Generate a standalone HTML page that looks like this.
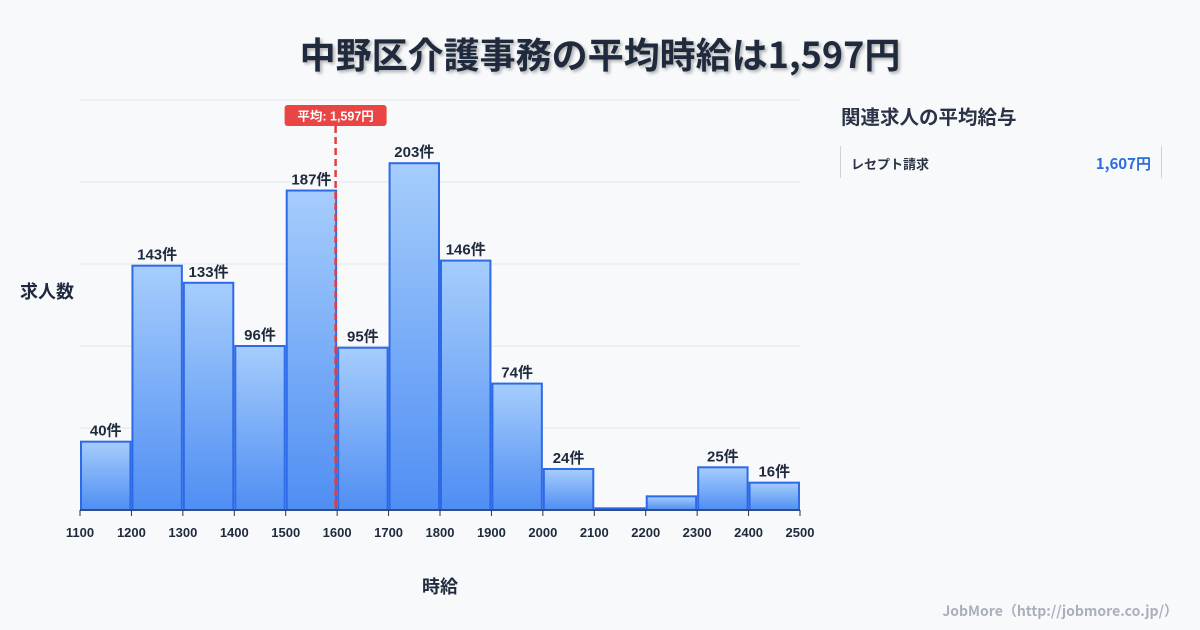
<!DOCTYPE html>
<html><head><meta charset="utf-8">
<style>
body{margin:0;width:1200px;height:630px;background:#f8f9fb;font-family:"Liberation Sans","Noto Sans CJK JP",sans-serif;overflow:hidden;position:relative}
#title{position:absolute;left:0;top:27px;width:1200px;text-align:center;font-size:36px;font-weight:bold;color:#1f2a3d;text-shadow:2px 2px 3px rgba(0,0,0,0.3);font-family:"Noto Sans CJK JP",sans-serif}
#side-title{position:absolute;left:841px;top:101px;font-size:19.5px;font-weight:bold;color:#2a3345;font-family:"Noto Sans CJK JP",sans-serif}
#side-row{position:absolute;left:840px;top:146px;width:320px;height:32px;border-left:1px solid #ccd3dd;border-right:1px solid #ccd3dd}
#side-row .l{position:absolute;left:10px;top:8px;font-size:13px;font-weight:bold;color:#2a3345;font-family:"Noto Sans CJK JP",sans-serif}
#side-row .r{position:absolute;right:10px;top:7px;font-size:15px;font-weight:bold;color:#2b6de0;font-family:"Noto Sans CJK JP",sans-serif}
#footer{position:absolute;right:22px;top:601px;font-size:14px;font-weight:bold;color:#a9b0bb;font-family:"Noto Sans CJK JP",sans-serif}
svg text{font-family:"Liberation Sans","Noto Sans CJK JP",sans-serif}
</style></head><body>
<div id="title">中野区介護事務の平均時給は1,597円</div>
<div id="side-title">関連求人の平均給与</div>
<div id="side-row"><span class="l">レセプト請求</span><span class="r">1,607円</span></div>
<div id="footer">JobMore（http://jobmore.co.jp/）</div>
<svg id="chart" width="1200" height="630" style="position:absolute;left:0;top:0">
<defs><linearGradient id="g" x1="0" y1="0" x2="0" y2="1"><stop offset="0" stop-color="#a6cdfc"/><stop offset="1" stop-color="#4f8ef3"/></linearGradient></defs>
</svg>
<script>
const binStarts=[1100,1200,1300,1400,1500,1600,1700,1800,1900,2000,2100,2200,2300,2400];
const counts=[40,143,133,96,187,95,203,146,74,24,1,8,25,16];
const showLabel=[true,true,true,true,true,true,true,true,true,true,false,false,true,true];
const xTicks=[1100,1200,1300,1400,1500,1600,1700,1800,1900,2000,2100,2200,2300,2400,2500];
const yGrid=[0,48,96,144,192,240];
const avg=1597;
const NS="http://www.w3.org/2000/svg";
const svg=document.getElementById('chart');
const X0=80,X1=800,Y0=510,Y1=100,xmin=1100,xmax=2500,ymax=240;
const xs=v=>X0+(v-xmin)/(xmax-xmin)*(X1-X0);
const ys=v=>Y0-v/ymax*(Y0-Y1);
function mk(t,a,txt){const e=document.createElementNS(NS,t);for(const k in a)e.setAttribute(k,a[k]);if(txt!==undefined)e.textContent=txt;svg.appendChild(e);return e;}
yGrid.forEach(v=>{const l=mk('line',{x1:X0,x2:X1,y1:ys(v),y2:ys(v),stroke:'#e3e7ec','stroke-width':1});

});
const bw=xs(1200)-xs(1100);
binStarts.forEach((b,i)=>{const x=xs(b)+1,y=ys(counts[i]);
const r=mk('rect',{x:x,y:y,width:bw-2,height:Math.max(Y0-y,1),fill:'url(#g)',stroke:'#2d6ae8','stroke-width':2});


if(showLabel[i]){const t=mk('text',{x:x+(bw-2)/2,y:y-6,'text-anchor':'middle','font-size':15,'font-weight':'bold',fill:'#1f2a3d'},counts[i]+'件');

}});
mk('line',{x1:X0,x2:X1,y1:Y0,y2:Y0,stroke:'#333','stroke-width':1});
xTicks.forEach(v=>{mk('line',{x1:xs(v),x2:xs(v),y1:Y0,y2:Y0+6,stroke:'#333'});
const t=mk('text',{x:xs(v),y:Y0+27,'text-anchor':'middle','font-size':13,'font-weight':'bold',fill:'#1f2a3d'},v);

});
const ax=xs(avg);
const al=mk('line',{x1:ax,x2:ax,y1:Y1+26,y2:Y0,stroke:'#e53e3e','stroke-width':2.5,'stroke-dasharray':'7,4'});


const ab=mk('rect',{x:ax-51,y:Y1+5,width:102,height:21,rx:3,fill:'#e94545'});


const at=mk('text',{x:ax,y:Y1+20.5,'text-anchor':'middle','font-size':12.5,'font-weight':'bold',fill:'#fff'},'平均: 1,597円');


const yt=mk('text',{x:20,y:298,'font-size':18,'font-weight':'bold',fill:'#1f2a3d'},'求人数');


const xt=mk('text',{x:440,y:593,'text-anchor':'middle','font-size':18,'font-weight':'bold',fill:'#1f2a3d'},'時給');


</script>
</body></html>
